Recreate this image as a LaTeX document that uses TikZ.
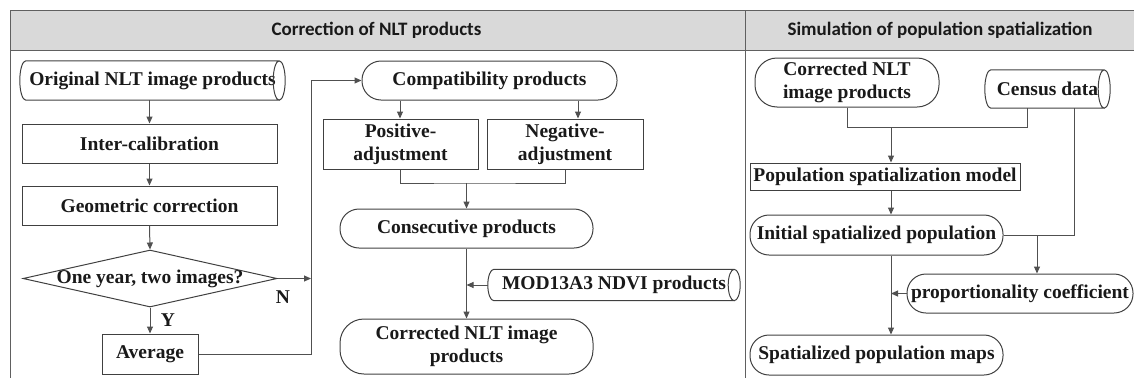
\documentclass[tikz,border=0pt]{standalone}
\usepackage{fontspec}
\setmainfont{Liberation Serif}
\newfontfamily\hdfont{Carlito}
\usetikzlibrary{shapes.geometric,arrows.meta,calc}
\definecolor{linec}{HTML}{404040}
\definecolor{arrc}{HTML}{505050}
\definecolor{hdr}{HTML}{D9D9D9}
\definecolor{framec}{HTML}{606060}
\newcommand\cylout[1]{%
  \draw[draw=linec, line width=1pt] let \p1=(#1.north east), \p2=(#1.south west), \n1={(\y1-\y2)/2} in
    (\x2+6pt,\y1) -- (\x1-6pt,\y1) arc[start angle=90, end angle=-270, x radius=6pt, y radius=\n1]
    (\x1-6pt,\y2) -- (\x2+6pt,\y2) arc[start angle=270, end angle=90, x radius=6pt, y radius=\n1];}
\begin{document}
\begin{tikzpicture}[x=1pt,y=1pt,
  txt/.style={font=\bfseries\fontsize{19.5}{23}\selectfont, align=center, inner sep=0pt, text=black!90},
  procbox/.style={txt, draw=linec, line width=1pt, rectangle},
  termbox/.style={txt, draw=linec, line width=1pt, rectangle, rounded corners=19pt},
  databox/.style={txt, rectangle},
  decbox/.style={draw=linec, line width=1pt, diamond, inner sep=0pt},
  lbl/.style={font=\bfseries\fontsize{19.5}{23}\selectfont, inner sep=0pt, text=black!90},
  hdtxt/.style={font=\hdfont\bfseries\fontsize{19}{23}\selectfont, inner sep=0pt, text=black!90},
  arr/.style={draw=arrc, line width=1pt, -{Triangle[length=7pt,width=6pt]}},
  ln/.style={draw=arrc, line width=1pt},
  frame/.style={draw=framec, line width=1pt}]
\useasboundingbox (0,0) rectangle (1134,-378);
% frame
\fill[hdr] (10,-10) rectangle (1134,-50);
\draw[frame] (1134,-10) -- (10,-10) -- (10,-378);
\draw[frame] (10,-50) -- (1134,-50);
\draw[frame] (745,-10) -- (745,-378);
\node[hdtxt] (h1) at (376.5,-30) {Correction of NLT products};
\node[hdtxt] (h2) at (940,-30) {Simulation of population spatialization};
% left column
\node[databox, minimum width=265pt, minimum height=39pt] (orig) at (152.5,-80.5) {Original NLT image products};
\cylout{orig}
\node[procbox, minimum width=255pt, minimum height=39pt] (inter) at (149.5,-143.5) {Inter-calibration};
\node[procbox, minimum width=255pt, minimum height=39pt] (geo) at (149.5,-205.5) {Geometric correction};
\node[decbox, minimum width=254pt, minimum height=57pt, label={[lbl]center:One year, two images?}] (dec) at (150,-278.5) {};
\node[procbox, minimum width=96pt, minimum height=40pt] (avg) at (150,-354) {Average};
\node[lbl] (nlab) at (283,-297) {N};
\node[lbl] (ylab) at (168,-320) {Y};
% middle column
\node[termbox, minimum width=255pt, minimum height=39pt] (compat) at (489.5,-80.5) {Compatibility products};
\node[procbox, minimum width=155pt, minimum height=50pt] (pos) at (400.5,-144) {Positive-\\adjustment};
\node[procbox, minimum width=156pt, minimum height=50pt] (neg) at (565,-144) {Negative-\\adjustment};
\node[termbox, minimum width=253pt, minimum height=39pt] (cons) at (466.5,-228.5) {Consecutive products};
\node[databox, minimum width=252pt, minimum height=31pt] (mod) at (614,-285) {MOD13A3 NDVI products};
\cylout{mod}
\node[termbox, minimum width=253pt, minimum height=55pt, rounded corners=24pt] (corr) at (466.5,-346.5) {Corrected NLT image\\products};
% right column
\node[termbox, minimum width=184pt, minimum height=49pt, rounded corners=22pt] (corr2) at (847,-82.5) {Corrected NLT\\image products};
\node[databox, minimum width=125pt, minimum height=38pt] (census) at (1047.5,-89) {Census data};
\cylout{census}
\node[procbox, minimum width=270pt, minimum height=27pt] (model) at (885,-176.5) {Population spatialization model};
\node[termbox, minimum width=253pt, minimum height=40pt] (init) at (876.5,-235) {Initial spatialized population};
\node[termbox, minimum width=226pt, minimum height=39pt] (prop) at (1020,-293.5) {proportionality coefficient};
\node[termbox, minimum width=253pt, minimum height=40pt] (spat) at (876.5,-355) {Spatialized population maps};
% helper coordinates
\coordinate (jx) at (311,-278.5);
\coordinate (ca) at (400,0);
\coordinate (cb) at (578,0);
\coordinate (m1) at (466.5,-183);
\coordinate (cj) at (1027,-127);
\coordinate (mx) at (891,-127);
\coordinate (cr) at (1074,-235);
\coordinate (pa) at (1037,-235);
% left connectors
\draw[arr] (inter.north |- orig.south) -- (inter.north);
\draw[arr] (inter.south) -- (geo.north);
\draw[arr] (geo.south) -- (dec.north);
\draw[arr] (dec.south) -- (avg.north);
\draw[arr] (dec.east) -- (jx);
\draw[arr] (avg.east) -| (jx |- compat.west) -- (compat.west);
% middle connectors
\draw[arr] (ca |- compat.south) -- (ca |- pos.north);
\draw[arr] (cb |- compat.south) -- (cb |- neg.north);
\draw[ln] (pos.south) |- (m1) -| (neg.south);
\draw[arr] (m1) -- (cons.north);
\draw[arr] (cons.south) -- (corr.north);
\draw[arr] (mod.west) -- (mod.west -| cons.south);
% right connectors
\draw[ln] (corr2.south) |- (cj) -- (cj |- census.south);
\draw[arr] (mx) -- (mx |- model.north);
\draw[arr] (mx |- model.south) -- (mx |- init.north);
\draw[ln] (cr |- census.south) -- (cr) -- (init.east);
\draw[arr] (pa) -- (pa |- prop.north);
\draw[arr] (mx |- init.south) -- (mx |- spat.north);
\draw[arr] (prop.west) -- (prop.west -| mx);
\end{tikzpicture}
\end{document}
